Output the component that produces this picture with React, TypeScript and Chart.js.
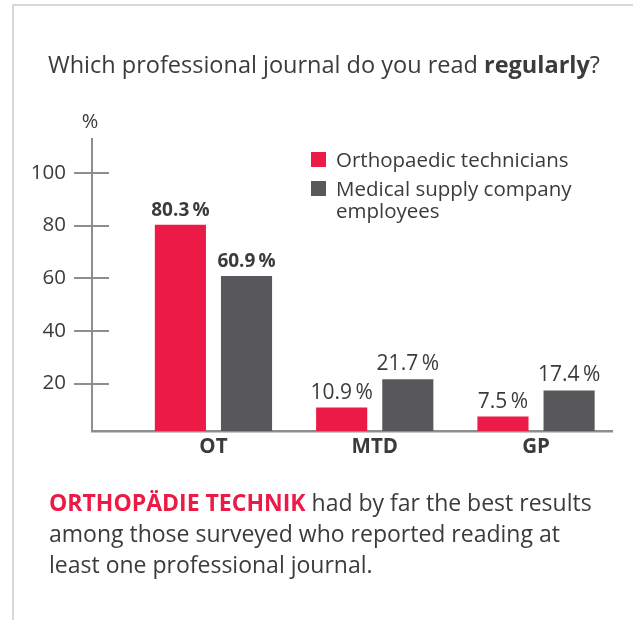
import React, { useEffect, useRef } from 'react';
import { Chart, registerables } from 'chart.js';

Chart.register(...registerables);

const categories = ['OT', 'MTD', 'GP'];
const seriesNames = ['Orthopaedic technicians', 'Medical supply company employees'];
const legendLines = [['Orthopaedic technicians'], ['Medical supply company', 'employees']];
const technicians = [80.3, 10.9, 7.5];
const supplyEmployees = [60.9, 21.7, 17.4];
const yTicks = [20, 40, 60, 80, 100];

const RED = '#ec1a47';
const GRAY = '#58585a';
const TEXT = '#3b3b3b';
const AXIS = '#8e8e8e';
const FONT = '"Open Sans", sans-serif';

const decor = {
  id: 'decor',
  afterDraw(chart: any) {
    const { ctx, chartArea, scales } = chart;
    const y = scales.y;
    ctx.save();
    // inward part of the y tick marks
    ctx.strokeStyle = AXIS;
    ctx.lineWidth = 2;
    yTicks.forEach((t) => {
      const py = Math.round(y.getPixelForValue(t));
      ctx.beginPath();
      ctx.moveTo(chartArea.left, py);
      ctx.lineTo(chartArea.left + 17, py);
      ctx.stroke();
    });
    // unit label
    ctx.fillStyle = TEXT;
    ctx.textAlign = 'center';
    ctx.textBaseline = 'alphabetic';
    ctx.font = `20px ${FONT}`;
    ctx.fillText('%', chartArea.left - 2, chartArea.top - 11);
    // value labels
    chart.data.datasets.forEach((ds: any, di: number) => {
      const meta = chart.getDatasetMeta(di);
      meta.data.forEach((bar: any, i: number) => {
        const v = ds.data[i].y as number;
        ctx.font = i === 0 ? `bold 19px ${FONT}` : `21px ${FONT}`;
        ctx.fillText(v.toFixed(1) + '\u2009%', bar.x, bar.y - 9);
      });
    });
    // legend
    ctx.textAlign = 'left';
    ctx.font = `20.5px ${FONT}`;
    const lx = chartArea.left + 219;
    let ly = chartArea.top + 13;
    chart.data.datasets.forEach((ds: any, di: number) => {
      ctx.fillStyle = ds.backgroundColor;
      ctx.fillRect(lx, ly, 15, 15);
      ctx.fillStyle = TEXT;
      legendLines[di].forEach((line, li) => {
        ctx.fillText(line, lx + 25, ly + 15 + li * 22);
      });
      ly += 29;
    });
    ctx.restore();
  },
};

export default function App() {
  const ref = useRef<HTMLCanvasElement | null>(null);

  useEffect(() => {
    if (!ref.current) return;
    const chart = new Chart(ref.current, {
      type: 'bar',
      data: {
        datasets: [
          {
            label: seriesNames[0],
            data: technicians.map((v, i) => ({ x: i, y: v })),
            backgroundColor: RED,
          },
          {
            label: seriesNames[1],
            data: supplyEmployees.map((v, i) => ({ x: i, y: v })),
            backgroundColor: GRAY,
          },
        ],
      },
      options: {
        responsive: false,
        animation: false,
        maintainAspectRatio: false,
        layout: { padding: { left: 0, right: 21, top: 139, bottom: 149 } },
        datasets: { bar: { categoryPercentage: 0.82, barPercentage: 0.773 } },
        plugins: { legend: { display: false }, tooltip: { enabled: false }, title: { display: false } },
        scales: {
          x: {
            type: 'linear',
            offset: false,
            min: -0.753,
            max: 2.471,
            afterBuildTicks: (scale: any) => {
              scale.ticks = categories.map((_, i) => ({ value: i }));
            },
            afterFit: (scale: any) => {
              scale.height = 40;
            },
            grid: { display: false, drawTicks: false },
            border: { display: true, color: AXIS, width: 2.5 },
            ticks: {
              padding: 4,
              color: TEXT,
              font: { family: '"Open Sans", sans-serif', size: 20.5, weight: 'bold' },
              callback: (v: any) => categories[v as number] ?? '',
              autoSkip: false,
              maxRotation: 0,
            },
          },
          y: {
            min: 2,
            max: 112.9,
            afterBuildTicks: (scale: any) => {
              scale.ticks = yTicks.map((v) => ({ value: v }));
            },
            afterFit: (scale: any) => {
              scale.width = 92;
            },
            grid: {
              drawOnChartArea: false,
              drawTicks: true,
              tickLength: 18,
              tickWidth: 2,
              tickColor: AXIS,
              color: AXIS,
              lineWidth: 2,
            },
            border: { display: true, color: AXIS, width: 2 },
            ticks: {
              padding: 8,
              color: TEXT,
              font: { family: '"Open Sans", sans-serif', size: 20.5 },
            },
          },
        },
      },
      plugins: [decor],
    });
    return () => chart.destroy();
  }, []);

  return (
    <div style={{ position: 'absolute', left: 0, top: 0, width: 633, height: 620, background: '#fff', overflow: 'hidden', fontFamily: FONT, color: TEXT }}>
      <div style={{ position: 'absolute', left: 12, top: 4, right: 0, bottom: 0, borderTop: '2px solid #d8d8d8', borderLeft: '2px solid #d8d8d8' }} />
      <canvas ref={ref} width={633} height={620} style={{ position: 'absolute', left: 0, top: 0 }} />
      <div style={{ position: 'absolute', left: 48, top: 53, fontSize: 23.5, lineHeight: '23.5px', whiteSpace: 'nowrap' }}>
        Which professional journal do you read <b>regularly</b>?
      </div>
      <div style={{ position: 'absolute', left: 49, top: 487, fontSize: 23, lineHeight: '31px', whiteSpace: 'nowrap' }}>
        <b style={{ color: RED }}>ORTHOPÄDIE TECHNIK</b> had by far the best results
        <br />
        among those surveyed who reported reading at
        <br />
        least one professional journal.
      </div>
    </div>
  );
}
